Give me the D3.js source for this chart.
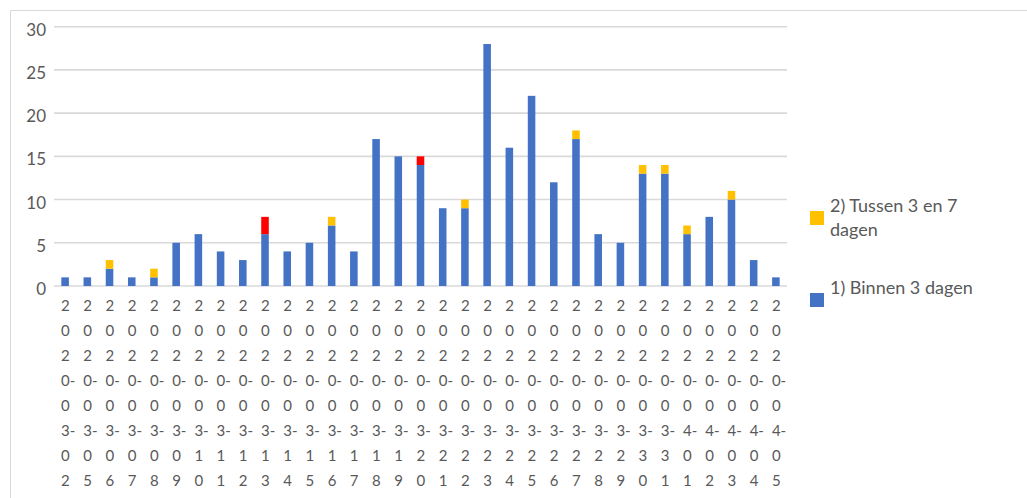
<!DOCTYPE html>
<html>
<head>
<meta charset="utf-8">
<script src="https://cdn.jsdelivr.net/npm/d3@7"></script>
<style>
  body { margin: 0; background: #fff; }
  svg { display: block; }
</style>
</head>
<body>
<div id="chart"></div>
<script>
// Dates (x categories)
const dates = [
  "2020-03-02", "2020-03-05", "2020-03-06", "2020-03-07", "2020-03-08", "2020-03-09",
  "2020-03-10", "2020-03-11", "2020-03-12", "2020-03-13", "2020-03-14", "2020-03-15",
  "2020-03-16", "2020-03-17", "2020-03-18", "2020-03-19", "2020-03-20", "2020-03-21",
  "2020-03-22", "2020-03-23", "2020-03-24", "2020-03-25", "2020-03-26", "2020-03-27",
  "2020-03-28", "2020-03-29", "2020-03-30", "2020-03-31", "2020-04-01", "2020-04-02",
  "2020-04-03", "2020-04-04", "2020-04-05"
];

// 1) Binnen 3 dagen
const binnen3 = [1, 1, 2, 1, 1, 5, 6, 4, 3, 6, 4, 5, 7, 4, 17, 15, 14, 9, 9, 28, 16, 22, 12, 17, 6, 5, 13, 13, 6, 8, 10, 3, 1];
// 2) Tussen 3 en 7 dagen
const tussen3en7 = [0, 0, 1, 0, 1, 0, 0, 0, 0, 0, 0, 0, 1, 0, 0, 0, 0, 0, 1, 0, 0, 0, 0, 1, 0, 0, 1, 1, 1, 0, 1, 0, 0];
// third series (no legend entry visible)
const meerDan7 = [0, 0, 0, 0, 0, 0, 0, 0, 0, 2, 0, 0, 0, 0, 0, 0, 1, 0, 0, 0, 0, 0, 0, 0, 0, 0, 0, 0, 0, 0, 0, 0, 0];

const yTicks = [0, 5, 10, 15, 20, 25, 30];

const seriesKeys = ["binnen", "tussen", "meer"];
const colors = { binnen: "#4472C4", tussen: "#FFC000", meer: "#FF0000" };

const legendItems = [
  { key: "tussen", lines: ["2) Tussen 3 en 7", "dagen"] },
  { key: "binnen", lines: ["1) Binnen 3 dagen"] }
];

const width = 1027, height = 498;
const plotLeft = 54, plotRight = 787, plotTop = 26.7, plotBottom = 286;
const font = "Lato, 'Open Sans', sans-serif";

const rows = dates.map((d, i) => ({ date: d, binnen: binnen3[i], tussen: tussen3en7[i], meer: meerDan7[i] }));

const svg = d3.select("#chart").append("svg")
  .attr("width", width)
  .attr("height", height);

// chart frame
svg.append("path")
  .attr("d", `M10.5,${height} V10.5 H${width}`)
  .attr("fill", "none")
  .attr("stroke", "#d9d9d9")
  .attr("stroke-width", 1);

const x = d3.scaleBand()
  .domain(dates)
  .range([plotLeft, plotRight])
  .paddingInner(0.66)
  .paddingOuter(0.33);

const y = d3.scaleLinear()
  .domain([0, 30])
  .range([plotBottom, plotTop]);

// gridlines
svg.append("g")
  .selectAll("line")
  .data(yTicks)
  .join("line")
  .attr("x1", plotLeft)
  .attr("x2", plotRight)
  .attr("y1", d => y(d))
  .attr("y2", d => y(d))
  .attr("stroke", "#d9d9d9")
  .attr("stroke-width", 1.6);

// y labels
svg.append("g")
  .selectAll("text")
  .data(yTicks)
  .join("text")
  .attr("x", 46)
  .attr("y", d => y(d) + 9)
  .attr("text-anchor", "end")
  .style("font-family", font)
  .style("font-size", "17px")
  .style("fill", "#595959")
  .text(d => d);

// stacked bars
const stacked = d3.stack().keys(seriesKeys)(rows);

svg.append("g")
  .selectAll("g")
  .data(stacked)
  .join("g")
  .attr("fill", d => colors[d.key])
  .selectAll("rect")
  .data(d => d.filter(s => s[1] > s[0]))
  .join("rect")
  .attr("x", d => x(d.data.date))
  .attr("width", x.bandwidth())
  .attr("y", d => y(d[1]))
  .attr("height", d => y(d[0]) - y(d[1]));

// x labels: each date broken into short lines
function splitDate(s) {
  // "2020-03-02" -> ["2","0","2","0-","0","3-","0","2"]
  return ["2", "0", "2", "0-", s[5], s[6] + "-", s[8], s[9]];
}

const xLab = svg.append("g")
  .selectAll("text")
  .data(dates)
  .join("text")
  .attr("x", d => x(d) + x.bandwidth() / 2 - 4)
  .attr("y", 311)
  .style("font-family", font)
  .style("font-size", "15px")
  .style("fill", "#595959");

xLab.selectAll("tspan")
  .data(d => splitDate(d))
  .join("tspan")
  .attr("x", function() { return d3.select(this.parentNode).attr("x"); })
  .attr("dy", (d, i) => i === 0 ? 0 : 25)
  .text(d => d);

// legend
const legendY = [211, 293];
const legend = svg.append("g")
  .selectAll("g")
  .data(legendItems)
  .join("g")
  .attr("transform", (d, i) => `translate(810,${legendY[i]})`);

legend.append("rect")
  .attr("width", 14)
  .attr("height", 14)
  .attr("fill", d => colors[d.key]);

legend.append("text")
  .attr("x", 20)
  .attr("y", 1)
  .style("font-family", font)
  .style("font-size", "18px")
  .style("fill", "#595959")
  .selectAll("tspan")
  .data(d => d.lines)
  .join("tspan")
  .attr("x", 20)
  .attr("dy", (d, i) => i === 0 ? 0 : 24)
  .text(d => d);
</script>
</body>
</html>
